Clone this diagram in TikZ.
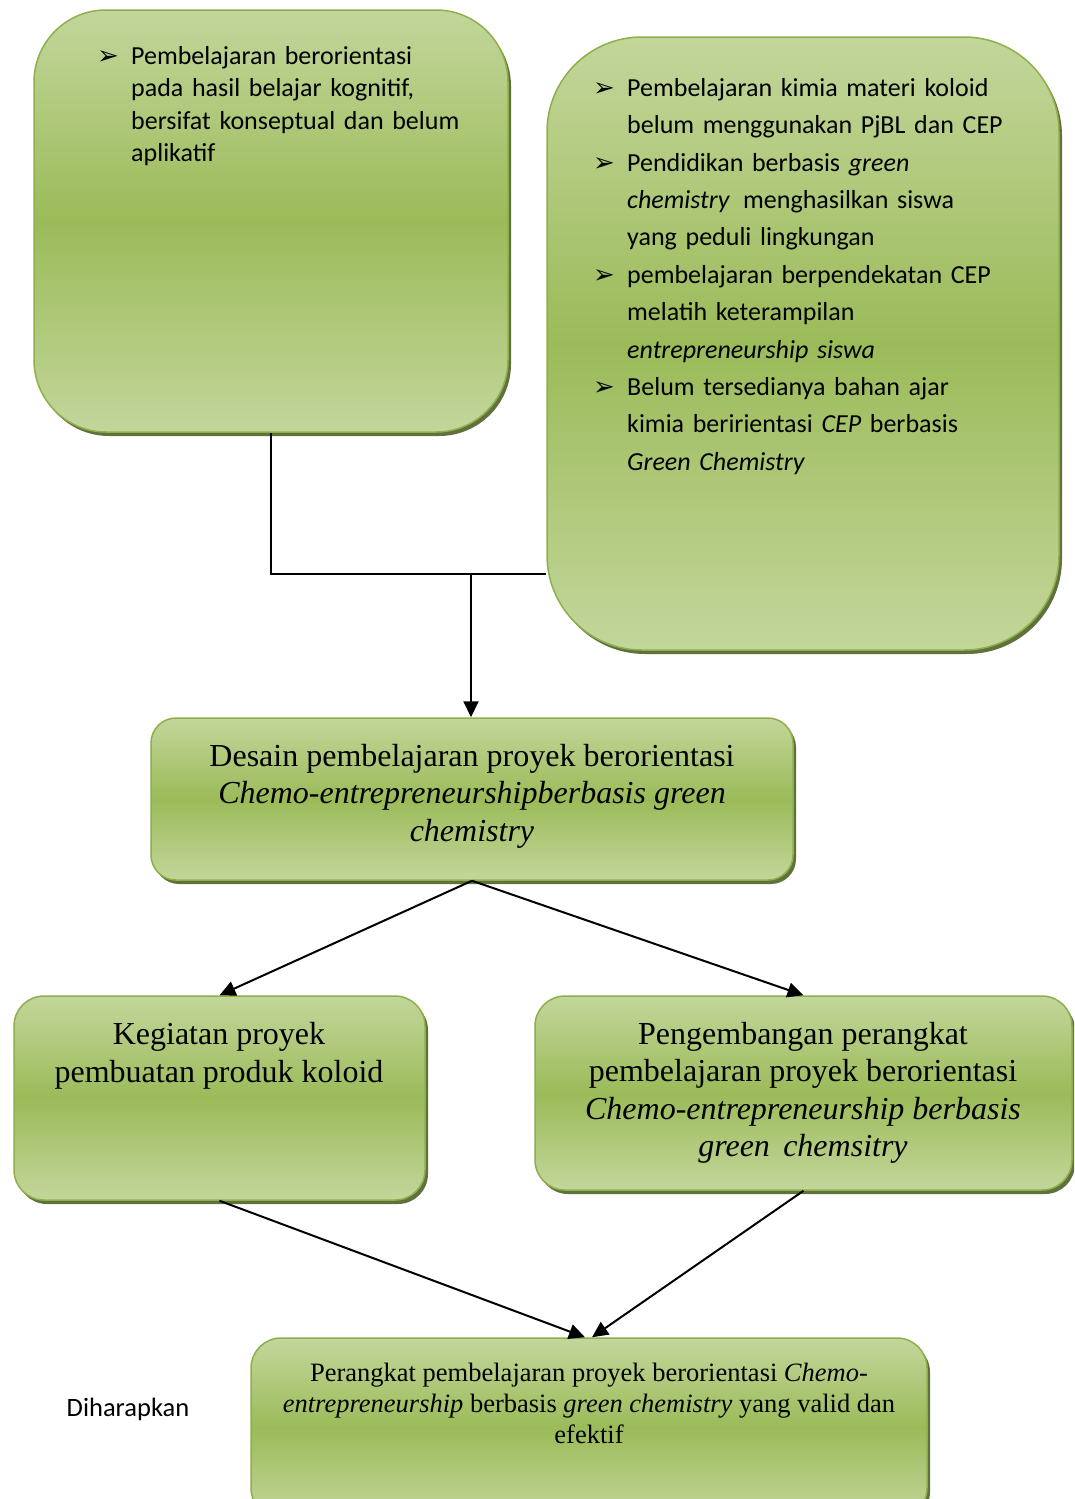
\documentclass[tikz,border=0pt]{standalone}
\usepackage{fontspec}
\setmainfont{Liberation Serif}
\newfontfamily\calibri{Carlito}
\newfontfamily\symfont{DejaVu Sans}
\usetikzlibrary{arrows.meta,shadows}
\definecolor{hijaumuda}{RGB}{195,214,155}
\definecolor{hijau}{RGB}{155,187,89}
\definecolor{garis}{RGB}{142,176,74}
\definecolor{bayang}{RGB}{79,98,40}
\newlength{\butirind}
\setlength{\butirind}{34pt}
\newcommand{\butir}[1]{\noindent\hangindent=\butirind\hangafter=1%
  \makebox[\butirind][l]{\symfont\char"27A2}#1\par}
\tikzset{
  kotak/.style={draw=garis, line width=1.5pt, top color=hijaumuda, bottom color=hijaumuda, middle color=hijau,
    drop shadow={fill=bayang, opacity=0.9, shadow xshift=3pt, shadow yshift=-4pt}},
  teks/.style={inner sep=0pt, align=center},
  hubung/.style={line width=2pt, black},
}
\begin{document}
\begin{tikzpicture}[x=1pt, y=-1pt, >={Triangle[length=16pt,width=15pt]}]
\clip (0,0) rectangle (1074,1499);
% kotak-kotak
\node[kotak, rounded corners=72pt, minimum width=474pt, minimum height=422pt] (A) at (271,221) {};
\node[kotak, rounded corners=95pt, minimum width=512pt, minimum height=613pt] (B) at (803,343.5) {};
\node[kotak, rounded corners=25pt, minimum width=642pt, minimum height=162pt] (C) at (472,799) {};
\node[kotak, rounded corners=30pt, minimum width=411pt, minimum height=204pt] (D) at (219.5,1098) {};
\node[kotak, rounded corners=30pt, minimum width=537pt, minimum height=194pt] (E) at (803.5,1093) {};
\node[kotak, rounded corners=30pt, minimum width=676pt, minimum height=180pt] (F) at (589,1428) {};
% teks
\node[inner sep=0pt, anchor=north west, text width=400pt, align=left,
  font=\calibri\fontsize{26}{32.5}\selectfont] (tA) at (97,46) {%
  \butir{Pembelajaran berorientasi\newline pada hasil belajar kognitif,\newline bersifat konseptual dan belum\newline aplikatif}};
\node[inner sep=0pt, anchor=north west, text width=440pt, align=left,
  font=\calibri\fontsize{26}{37.4}\selectfont] (tB) at (593,78) {%
  \butir{Pembelajaran kimia materi koloid\newline belum menggunakan PjBL dan CEP}
  \butir{Pendidikan berbasis \textit{green}\newline \textit{chemistry}\, menghasilkan siswa\newline yang peduli lingkungan}
  \butir{pembelajaran berpendekatan CEP\newline melatih keterampilan\newline \textit{entrepreneurship siswa}}
  \butir{Belum tersedianya bahan ajar\newline kimia beririentasi \textit{CEP} berbasis\newline \textit{Green Chemistry}}};
\node[teks, font=\fontsize{32}{37.5}\selectfont] (tC) at (472,796) {Desain pembelajaran proyek berorientasi\\
  \textit{Chemo-entrepreneurshipberbasis green}\\ \textit{chemistry}};
\node[teks, font=\fontsize{32}{37.5}\selectfont] (tD) at (219,1056) {Kegiatan proyek\\ pembuatan produk koloid};
\node[teks, font=\fontsize{32}{37.5}\selectfont] (tE) at (803,1093) {Pengembangan perangkat\\
  pembelajaran proyek berorientasi\\ \textit{Chemo-entrepreneurship berbasis}\\ \textit{green\, chemsitry}};
\node[teks, font=\fontsize{26.5}{31}\selectfont] (tF) at (589,1403) {Perangkat pembelajaran proyek berorientasi \textit{Chemo-}\\
  \textit{entrepreneurship} berbasis \textit{green chemistry} yang valid dan\\ efektif};
\node[teks, font=\calibri\fontsize{26.5}{30}\selectfont] (harap) at (128,1409) {Diharapkan};
% penghubung
\coordinate (simpul) at (471,574);
\draw[hubung] (A.south) |- (simpul);
\draw[hubung] (B.west |- simpul) -- (simpul);
\draw[hubung,->] (simpul) -- (simpul |- C.north);
\draw[hubung,->] (C.south) -- (D.north);
\draw[hubung,->] (C.south) -- (E.north);
\draw[hubung,->] (D.south) -- ([xshift=-4pt]F.north);
\draw[hubung,->] (E.south) -- ([xshift=3pt]F.north);
\end{tikzpicture}
\end{document}
